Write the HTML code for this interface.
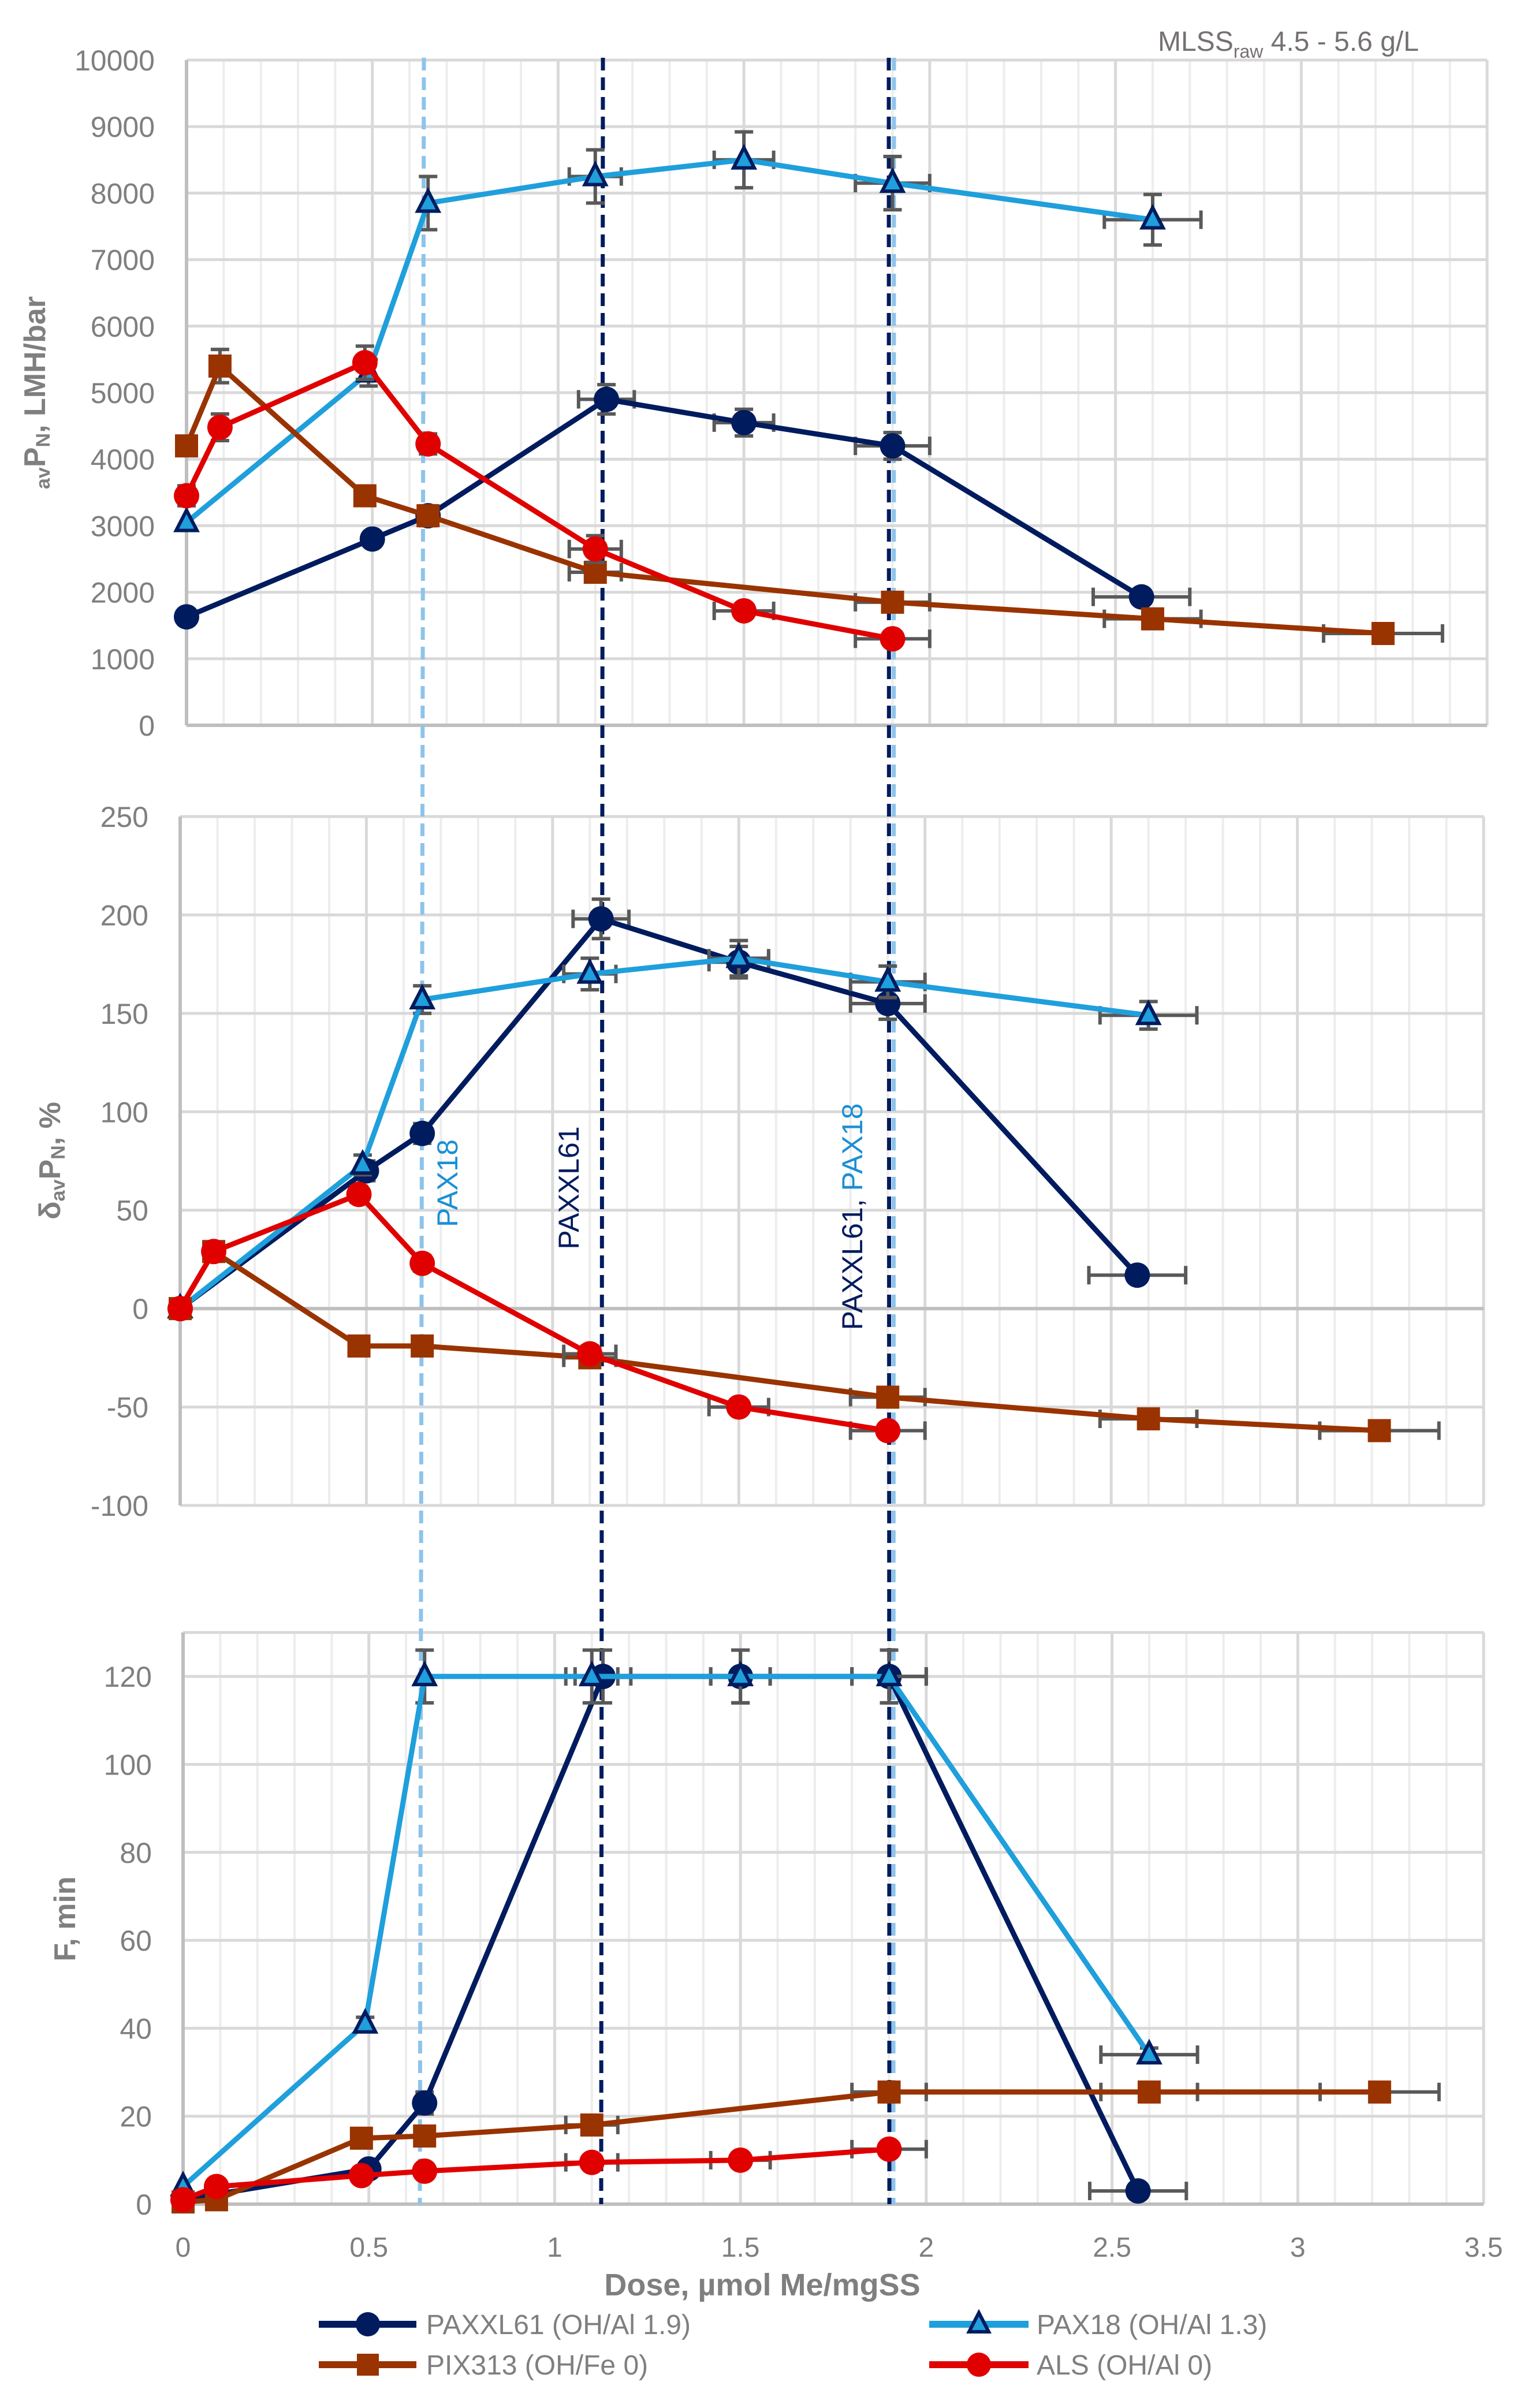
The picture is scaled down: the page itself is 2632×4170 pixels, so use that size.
<!DOCTYPE html>
<html><head><meta charset="utf-8">
<style>
html,body{margin:0;padding:0;background:#fff;}
svg{display:block;font-family:"Liberation Sans",sans-serif;}
</style></head>
<body>
<svg id="fig" xmlns="http://www.w3.org/2000/svg" width="2632" height="4170" viewBox="0 0 2632 4170">
<rect width="2632" height="4170" fill="#fff"/>
<g id="grids"></g>
<g id="refs"></g>
<g id="marks"></g>
<g id="texts"></g>
</svg>
<script>
// ---- data ----
const xXXL = [0, 0.5, 0.65, 1.13, 1.5, 1.9, 2.57];
const xPAX = [0, 0.49, 0.65, 1.1, 1.5, 1.9, 2.6];
const xPIX = [0, 0.09, 0.48, 0.65, 1.1, 1.9, 2.6, 3.22];
const xALS = [0, 0.09, 0.48, 0.65, 1.1, 1.5, 1.9];
const xErrXXL = [0, 0, 0, 0.075, 0.08, 0.1, 0.13];
const xErrPAX = [0, 0, 0, 0.07, 0.08, 0.1, 0.13];
const xErrPIX = [0, 0, 0, 0, 0.07, 0.1, 0.13, 0.16];
const xErrALS = [0, 0, 0, 0, 0.07, 0.08, 0.1];

const topXXL = [1630, 2800, 3150, 4900, 4550, 4200, 1930];
const topPAX = [3050, 5300, 7850, 8250, 8500, 8150, 7600];
const topPIX = [4200, 5400, 3450, 3150, 2300, 1850, 1600, 1380];
const topALS = [3450, 4480, 5450, 4230, 2650, 1720, 1300];
const topErrXXL = [0, 0, 0, 220, 200, 200, 0];
const topErrPAX = [0, 200, 400, 400, 420, 400, 380];
const topErrPIX = [0, 250, 120, 150, 0, 0, 0, 0];
const topErrALS = [150, 200, 250, 150, 200, 0, 0];

const midXXL = [0, 70, 89, 198, 176, 155, 17];
const midPAX = [0, 73, 157, 170, 178, 166, 149];
const midPIX = [0, 29, -19, -19, -25, -45, -56, -62];
const midALS = [0, 29, 58, 23, -23, -50, -62];
const midErrXXL = [0, 5, 5, 10, 8, 8, 0];
const midErrPAX = [0, 5, 7, 8, 9, 8, 7];
const midErrPIX = [0, 3, 3, 3, 3, 3, 3, 3];
const midErrALS = [0, 3, 4, 4, 4, 3, 3];

const botXXL = [1, 8, 23, 120, 120, 120, 3];
const botPAX = [4, 41, 120, 120, 120, 120, 34];
const botPIX = [0.5, 1, 15, 15.5, 18, 25.5, 25.5, 25.5];
const botALS = [1, 4, 6.5, 7.5, 9.5, 10, 12.5];
const botErrXXL = [0, 1.5, 2.5, 6, 6, 6, 0];
const botErrPAX = [0, 1.5, 6, 6, 6, 6, 1.5];
const botErrPIX = [0, 0, 1, 1, 1, 1, 0, 0];
const botErrALS = [0, 0, 1, 1, 1, 1, 0];

const topTicks = ["0","1000","2000","3000","4000","5000","6000","7000","8000","9000","10000"];
const midTicks = ["-100","-50","0","50","100","150","200","250"];
const botTicks = ["0","20","40","60","80","100","120"];
const xTicks = ["0","0.5","1","1.5","2","2.5","3","3.5"];

// ---- layout ----
const NS="http://www.w3.org/2000/svg";
const C = {navy:"#001b5e", blue:"#1f9fdc", brown:"#993300", red:"#e00000", err:"#595959"};
const charts = [
 {x0:323, x1:2575, yTop:104, yBot:1256, vMin:0, vMax:10000, step:1000, ticks:topTicks, labX:268,
  s:[[xXXL,topXXL,xErrXXL,topErrXXL,'navy'],[xPAX,topPAX,xErrPAX,topErrPAX,'pax'],[xPIX,topPIX,xErrPIX,topErrPIX,'pix'],[xALS,topALS,xErrALS,topErrALS,'als']]},
 {x0:312, x1:2569, yTop:1414, yBot:2607, vMin:-100, vMax:250, step:50, ticks:midTicks, labX:257,
  s:[[xXXL,midXXL,xErrXXL,midErrXXL,'navy'],[xPAX,midPAX,xErrPAX,midErrPAX,'pax'],[xPIX,midPIX,xErrPIX,midErrPIX,'pix'],[xALS,midALS,xErrALS,midErrALS,'als']]},
 {x0:317, x1:2569, yTop:2827, yBot:3817, vMin:0, vMax:130, step:20, ticks:botTicks, labX:263,
  s:[[xXXL,botXXL,xErrXXL,botErrXXL,'navy'],[xPAX,botPAX,xErrPAX,botErrPAX,'pax'],[xPIX,botPIX,xErrPIX,botErrPIX,'pix'],[xALS,botALS,xErrALS,botErrALS,'als']]}
];
function el(tag, attrs, parent){const e=document.createElementNS(NS,tag);for(const k in attrs)e.setAttribute(k,attrs[k]);parent.appendChild(e);return e;}
const G=document.getElementById('grids'), M=document.getElementById('marks'), T=document.getElementById('texts'), R=document.getElementById('refs');

charts.forEach((c,ci)=>{
  const sx=v=>c.x0+(c.x1-c.x0)*v/3.5;
  const sy=v=>c.yBot-(c.yBot-c.yTop)*(v-c.vMin)/(c.vMax-c.vMin);
  const zero = sy(Math.max(0,c.vMin));
  for(let i=1;i<=35;i++){
    const major=i%5===0;
    const ln=el('line',{x1:sx(i/10),x2:sx(i/10),y1:c.yTop,y2:c.yBot,stroke:major?'#d9d9d9':'#ededed','stroke-width':major?5:4},G);
    
    
  }
  for(let v=c.vMin; v<=c.vMax+1e-9; v+=c.step){
    const ln=el('line',{x1:c.x0,x2:c.x1,y1:sy(v),y2:sy(v),stroke:'#d9d9d9','stroke-width':5},G);
    
    
  }
  const topb=el('line',{x1:c.x0,x2:c.x1,y1:c.yTop,y2:c.yTop,stroke:'#d9d9d9','stroke-width':5},G);
  
  
  const ya=el('line',{x1:c.x0,x2:c.x0,y1:c.yTop,y2:c.yBot,stroke:'#bfbfbf','stroke-width':6},G);
  
  
  const xa=el('line',{x1:c.x0,x2:c.x1,y1:zero,y2:zero,stroke:'#bfbfbf','stroke-width':6},G);
  
  
  c.ticks.forEach(t=>{
    const tx=el('text',{x:c.labX,y:sy(+t)+18,'text-anchor':'end','font-size':50,fill:'#7f7f7f'},T);
    tx.textContent=t;
    
    
  });
  if(ci===2){
    xTicks.forEach(t=>{
      const tx=el('text',{x:sx(+t),y:3908,'text-anchor':'middle','font-size':48,fill:'#7f7f7f'},T);
      tx.textContent=t;
      
      
    });
  }
  c.s.forEach(([xs,ys,xe,ye,kind])=>{
    const col = kind==='navy'?C.navy:kind==='pax'?C.blue:kind==='pix'?C.brown:C.red;
    const g=el('g',{},M);
    
    
    xs.forEach((x,i)=>{
      const px=sx(x), py=sy(ys[i]);
      if(ye[i]>0){
        const a=sy(ys[i]+ye[i]), b=sy(ys[i]-ye[i]);
        const eb=el('path',{d:`M${px},${a}V${b}M${px-16},${a}H${px+16}M${px-16},${b}H${px+16}`,stroke:C.err,'stroke-width':6,fill:'none'},g);
        
        
      }
      if(xe[i]>0){
        const a=sx(x-xe[i]), b=sx(x+xe[i]);
        const eb=el('path',{d:`M${a},${py}H${b}M${a},${py-16}V${py+16}M${b},${py-16}V${py+16}`,stroke:C.err,'stroke-width':6,fill:'none'},g);
        
        
      }
    });
    const pts=xs.map((x,i)=>sx(x)+','+sy(ys[i])).join(' ');
    const pl=el('polyline',{points:pts,fill:'none',stroke:col,'stroke-width':9,'stroke-linejoin':'round'},g);
    
    
    xs.forEach((x,i)=>{
      const px=sx(x), py=sy(ys[i]); let m;
      if(kind==='navy'||kind==='als') m=el('circle',{cx:px,cy:py,r:22,fill:col},g);
      else if(kind==='pix') m=el('rect',{x:px-20,y:py-20,width:40,height:40,fill:col},g);
      else m=el('path',{d:`M${px},${py-21}L${px+18},${py+14}L${px-18},${py+14}Z`,fill:C.blue,stroke:C.navy,'stroke-width':6,'stroke-linejoin':'miter'},g);
      
      
    });
  });
});

[[734,727,'#8dc4ea','ref-line-pax18-0.64'],[1044,1041,C.navy,'ref-line-paxxl61-1.13'],[1548,1547,'#8dc4ea','ref-line-pax18-1.9'],[1539,1540,C.navy,'ref-line-paxxl61-1.9']].forEach(([a,b,col,n])=>{
  const ln=el('line',{x1:a,y1:100,x2:b,y2:3817,stroke:col,'stroke-width':7,'stroke-dasharray':'22 12'},R);
  
  
});
</script>
<svg style="position:absolute;left:0;top:0" width="2632" height="4170" xmlns="http://www.w3.org/2000/svg" font-family="Liberation Sans, sans-serif">
  <text x="2005" y="88" font-size="48" fill="#767171">MLSS<tspan font-size="32" dy="12">raw</tspan><tspan dy="-12"> 4.5 - 5.6 g/L</tspan></text>
  <text transform="translate(78,680) rotate(-90)" text-anchor="middle" font-size="52" font-weight="bold" fill="#7f7f7f"><tspan font-size="34" dy="8">av</tspan><tspan dy="-8">P</tspan><tspan font-size="34" dy="8">N</tspan><tspan dy="-8">, LMH/bar</tspan></text>
  <text transform="translate(104,2010) rotate(-90)" text-anchor="middle" font-size="52" font-weight="bold" fill="#7f7f7f">δ<tspan font-size="34" dy="8">av</tspan><tspan dy="-8">P</tspan><tspan font-size="34" dy="8">N</tspan><tspan dy="-8">, %</tspan></text>
  <text transform="translate(130,3323) rotate(-90)" text-anchor="middle" font-size="52" font-weight="bold" fill="#7f7f7f">F, min</text>
  <text transform="translate(792,2049) rotate(-90)" text-anchor="middle" font-size="50" fill="#1a8fd6">PAX18</text>
  <text transform="translate(1002,2057) rotate(-90)" text-anchor="middle" font-size="50" fill="#001b5e">PAXXL61</text>
  <text transform="translate(1493,2107) rotate(-90)" text-anchor="middle" font-size="50" fill="#001b5e">PAXXL61, <tspan fill="#1a8fd6">PAX18</tspan></text>
  <text x="1320" y="3975" text-anchor="middle" font-size="54" font-weight="bold" fill="#7f7f7f">Dose, µmol Me/mgSS</text>
  <g font-size="48" fill="#7f7f7f">
    <g>
      <line x1="552" y1="4025" x2="721" y2="4025" stroke="#001b5e" stroke-width="12"/>
      <circle cx="637" cy="4025" r="21" fill="#001b5e"/>
      <text x="738" y="4042">PAXXL61 (OH/Al 1.9)</text>
    </g>
    <g>
      <line x1="1609" y1="4025" x2="1781" y2="4025" stroke="#1f9fdc" stroke-width="12"/>
      <path d="M1695,4005L1712,4038L1678,4038Z" fill="#1f9fdc" stroke="#001b5e" stroke-width="6"/>
      <text x="1795" y="4042">PAX18 (OH/Al 1.3)</text>
    </g>
    <g>
      <line x1="552" y1="4095" x2="721" y2="4095" stroke="#993300" stroke-width="12"/>
      <rect x="618" y="4076" width="38" height="38" fill="#993300"/>
      <text x="738" y="4112">PIX313 (OH/Fe 0)</text>
    </g>
    <g>
      <line x1="1609" y1="4095" x2="1781" y2="4095" stroke="#e00000" stroke-width="12"/>
      <circle cx="1695" cy="4095" r="21" fill="#e00000"/>
      <text x="1795" y="4112">ALS (OH/Al 0)</text>
    </g>
  </g>
</svg>
</body></html>
